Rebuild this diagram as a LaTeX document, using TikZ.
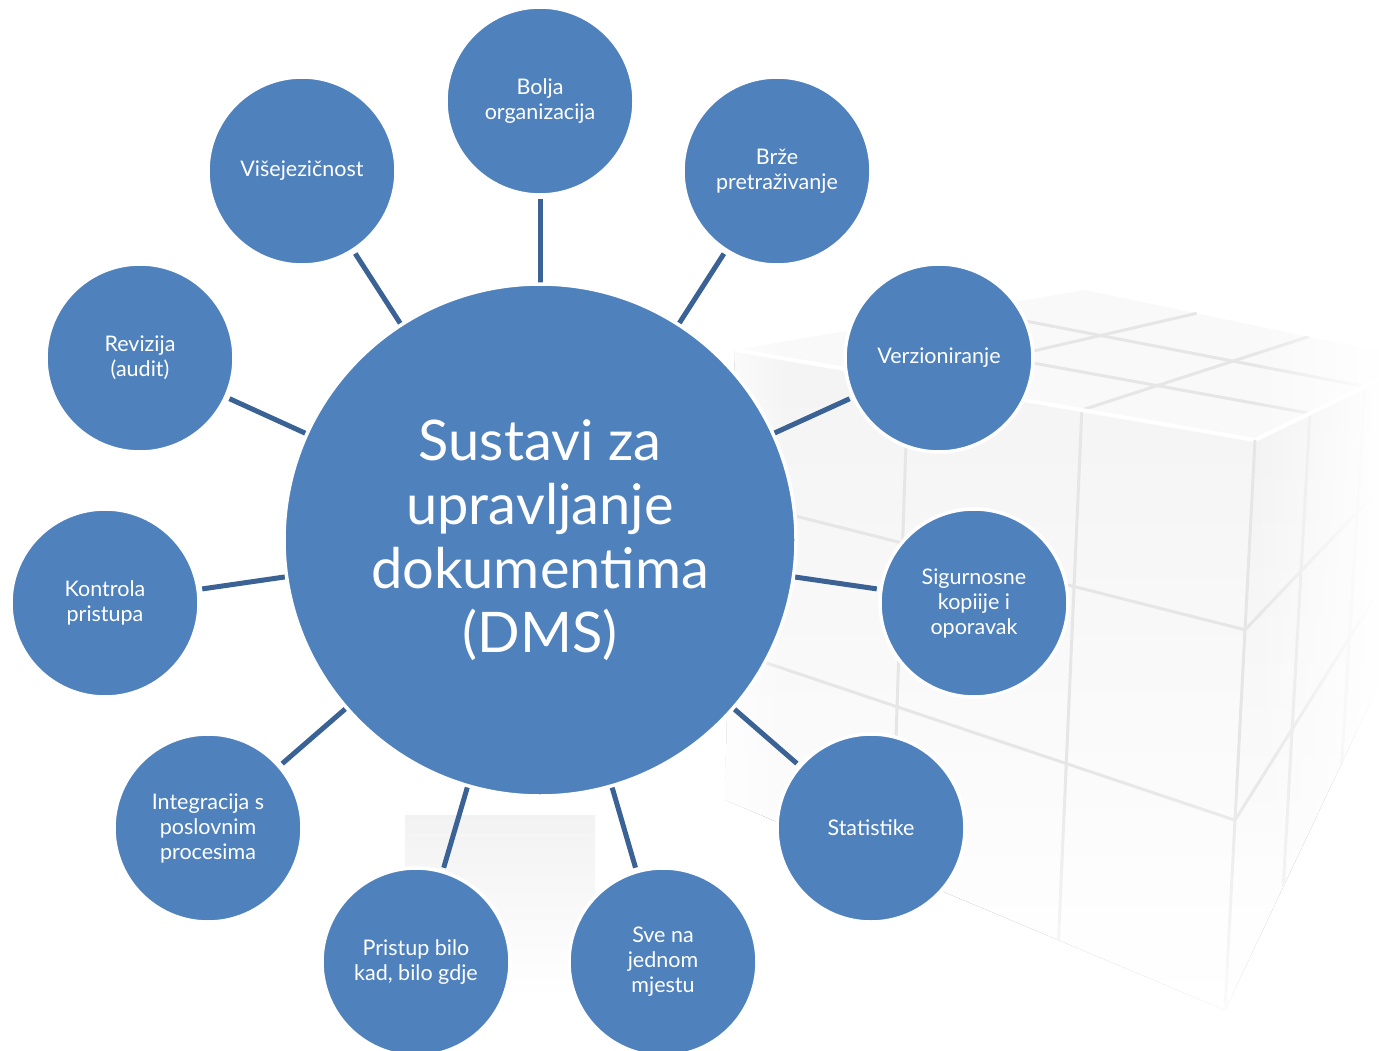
\documentclass[tikz,border=0pt]{standalone}
\usepackage{fontspec}
\setmainfont{Lato}
\usetikzlibrary{calc,fadings}
\definecolor{dmsfill}{HTML}{4F81BD}
\definecolor{dmsline}{HTML}{3A6295}
\definecolor{cubegrid}{HTML}{E6E6E6}
\pgfdeclarelayer{cubelayer}
\pgfdeclarelayer{connlayer}
\pgfsetlayers{cubelayer,connlayer,main}
\begin{document}
\begin{tikzpicture}[x=1pt,y=-1pt,
  item/.style={circle, fill=dmsfill, draw=white, line width=3.5pt, minimum size=188pt, inner sep=0pt, text=white, align=center, font=\fontsize{21.5}{25}\selectfont},
  hub/.style={circle, fill=dmsfill, draw=white, line width=3.5pt, minimum size=512pt, inner sep=0pt, text=white, align=center, font=\fontsize{56}{64}\selectfont},
  conn/.style={draw=dmsline, line width=5pt, shorten >=2.5pt, shorten <=-6pt},
  gridline/.style={draw=cubegrid, line width=3pt}]
\useasboundingbox (0,0) rectangle (1379,1051);
\begin{scope}
\clip (0,0) rectangle (1379,1051);
% faint cube in the background
\begin{pgfonlayer}{cubelayer}
\coordinate (L) at (735,350);
\coordinate (B) at (1085,290);
\coordinate (R) at (1420,360);
\coordinate (F) at (1255,440);
\coordinate (Lb) at (725,800);
\coordinate (Fb) at (1225,1010);
\coordinate (Rb) at (1400,640);
\fill[top color=gray!9, bottom color=white] (L) -- (F) -- (Fb) -- (Lb) -- cycle;
\fill[top color=gray!11, bottom color=white] (F) -- (R) -- (Rb) -- (Fb) -- cycle;
\fill[gray!5] (L) -- (B) -- (R) -- (F) -- cycle;
\foreach \t in {0.333,0.667} {
  \draw[gridline] ($(L)!\t!(B)$) -- ($(F)!\t!(R)$);
  \draw[gridline] ($(L)!\t!(F)$) -- ($(B)!\t!(R)$);
  \draw[gridline] ($(L)!\t!(F)$) -- ($(Lb)!\t!(Fb)$);
  \draw[gridline] ($(L)!\t!(Lb)$) -- ($(F)!\t!(Fb)$);
  \draw[gridline] ($(F)!\t!(R)$) -- ($(Fb)!\t!(Rb)$);
  \draw[gridline] ($(F)!\t!(Fb)$) -- ($(R)!\t!(Rb)$);
}
\draw[gridline, draw=white, line width=4pt] (L) -- (F) -- (R);
\draw[gridline] (F) -- (Fb);
\fill[white, path fading=west] (1250,280) rectangle (1379,1051);
\fill[white, path fading=north] (700,760) rectangle (1379,1051);
\fill[white, path fading=east] (700,280) rectangle (790,1051);
\fill[top color=gray!10, bottom color=white] (405,815) rectangle (595,1000);
\draw[draw=gray!7, line width=3pt] (410,835) -- (590,835);
\end{pgfonlayer}
% nodes
\node[hub] (c) at (540,540) {Sustavi za\\upravljanje\\dokumentima\\(DMS)};
\node[item] (n1) at (540,101) {Bolja\\organizacija};
\node[item] (n2) at (777,171) {Brže\\pretraživanje};
\node[item] (n3) at (939,358) {Verzioniranje};
\node[item] (n4) at (974,603) {Sigurnosne\\kopiije i\\oporavak};
\node[item] (n5) at (871,828) {Statistike};
\node[item] (n6) at (663,962) {Sve na\\jednom\\mjestu};
\node[item] (n7) at (416,962) {Pristup bilo\\kad, bilo gdje};
\node[item] (n8) at (208,828) {Integracija s\\poslovnim\\procesima};
\node[item] (n9) at (105,603) {Kontrola\\pristupa};
\node[item] (n10) at (140,358) {Revizija\\(audit)};
\node[item] (n11) at (302,171) {Višejezičnost};
\begin{pgfonlayer}{connlayer}
\foreach \i in {1,...,11} { \draw[conn] (c) -- (n\i); }
\end{pgfonlayer}
\end{scope}
\end{tikzpicture}
\end{document}
